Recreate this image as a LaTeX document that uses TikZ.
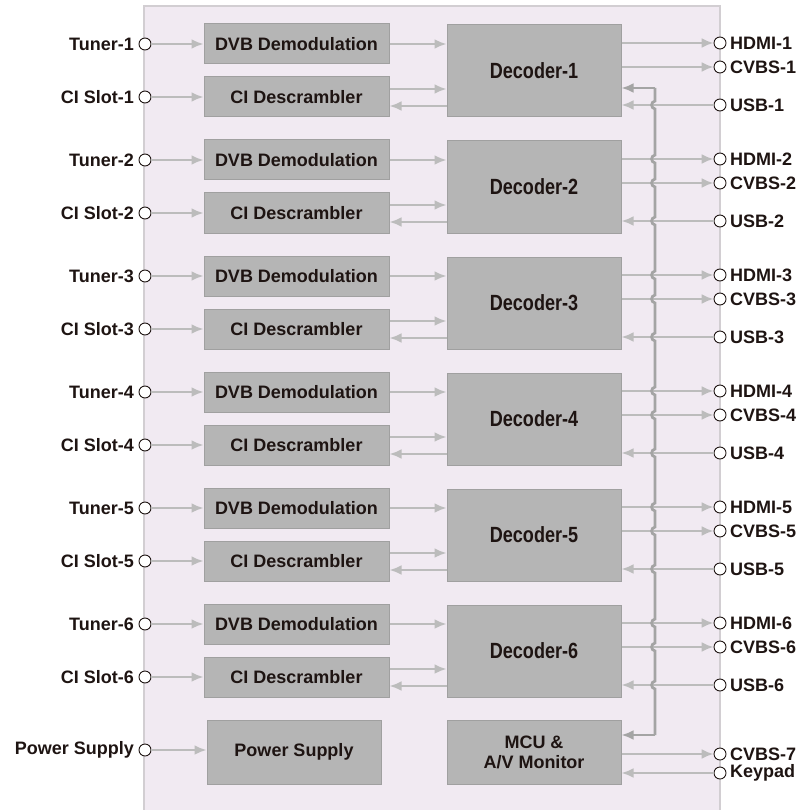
\documentclass[tikz,border=0pt]{standalone}
\usepackage{fontspec}
\setmainfont{Liberation Sans}
\newfontfamily\decfont[FakeStretch=0.82]{Liberation Sans}
\usetikzlibrary{arrows.meta,calc}
\definecolor{panel}{HTML}{F1EAF2}
\definecolor{panelrule}{HTML}{D2CED2}
\definecolor{blockfill}{HTML}{B5B5B5}
\definecolor{blockrule}{HTML}{A0A0A0}
\definecolor{wire}{HTML}{BCBCBC}
\definecolor{buswire}{HTML}{A4A4A4}
\definecolor{ink}{HTML}{1E1412}

\begin{document}
\begin{tikzpicture}[x=1pt,y=-1pt,
  font=\fontsize{18}{20}\selectfont\bfseries,
  blk/.style={draw=blockrule, fill=blockfill, line width=1pt, inner sep=0pt, text=ink, align=center},
  demod/.style={blk, minimum width=185pt, minimum height=40pt},
  decbox/.style={blk, minimum width=174pt, minimum height=92pt, font=\decfont\bfseries\fontsize{22}{24}\selectfont},
  lowbox/.style={blk, minimum width=174pt, minimum height=64pt},
  port/.style={circle, draw=ink, fill=white, line width=0.9pt, minimum size=12pt, inner sep=0pt},
  lbl/.style={text=ink, inner sep=1pt},
  arr/.style={draw=wire, line width=2.8pt, -{Latex[length=12pt,width=10pt]}},
  bus/.style={draw=buswire, line width=2.8pt}
]
\useasboundingbox (0,0) rectangle (801,810);

% enclosure panel
\fill[panel] (144,6) rectangle (720,810);
\draw[panelrule, line width=1.2pt] (144,810) -- (144,6) -- (720,6) -- (720,810);

% six tuner / decoder channels
\foreach \i [evaluate=\i as \yo using 116*(\i-1)] in {1,...,6} {
  \node[demod] (dvb\i) at (296.5,44+\yo) {DVB Demodulation};
  \node[demod] (ci\i) at (296.5,97+\yo) {CI Descrambler};
  \node[decbox] (dec\i) at (534,71+\yo) {Decoder-\i};

  \node[port] (tun\i) at (145,44+\yo) {};
  \node[lbl, anchor=east] (tunl\i) at (135,44+\yo) {Tuner-\i};
  \node[port] (slot\i) at (145,97+\yo) {};
  \node[lbl, anchor=east] (slotl\i) at (135,97+\yo) {CI Slot-\i};

  \node[port] (hdmi\i) at (720,43+\yo) {};
  \node[lbl, anchor=west] (hdmil\i) at (729,43+\yo) {HDMI-\i};
  \node[port] (cvbs\i) at (720,67+\yo) {};
  \node[lbl, anchor=west] (cvbsl\i) at (729,67+\yo) {CVBS-\i};
  \node[port] (usb\i) at (720,105+\yo) {};
  \node[lbl, anchor=west] (usbl\i) at (729,105+\yo) {USB-\i};

  \draw[arr] (tun\i) -- (dvb\i);
  \draw[arr] (slot\i) -- (ci\i);
  \draw[arr] (dvb\i.east) -- (dvb\i.east -| dec\i.west);
  \draw[arr] ($(ci\i.east)+(0,-8)$) -- ($(ci\i.east -| dec\i.west)+(0,-8)$);
  \draw[arr] ($(ci\i.east -| dec\i.west)+(0,9)$) -- ($(ci\i.east)+(0,9)$);
  \draw[arr] (dec\i.east |- hdmi\i) -- (hdmi\i);
  \draw[arr] (dec\i.east |- cvbs\i) -- (cvbs\i);
  \draw[arr] (usb\i) -- (usb\i -| dec\i.east);
}

% power supply and control
\node[lowbox] (pwr) at (294,752) {Power Supply};
\node[lowbox] (mcu) at (534,752) {MCU \&\\A/V Monitor};
\node[port] (pwrin) at (145,750) {};
\node[lbl, anchor=east] (pwrinl) at (135,750) {Power Supply};
\node[port] (cvbs7) at (720,754) {};
\node[lbl, anchor=west] (cvbsl7) at (729,754) {CVBS-7};
\node[port] (keypad) at (720,773) {};
\node[lbl, anchor=west] (keypadl) at (729,773) {Keypad};

\draw[arr] (pwrin) -- (pwrin -| pwr.west);
\draw[arr] (mcu.east |- cvbs7) -- (cvbs7);
\draw[arr] (keypad) -- (keypad -| mcu.east);

% control bus from the MCU to Decoder-1, hopping over the output wires
\coordinate (bustop) at (655,88);
\coordinate (busbot) at (655,735);
\draw[bus] (bustop)
  foreach \y in {105,159,183,221,275,299,337,391,415,453,507,531,569,623,647,685} {
    -- (655,\y-4) .. controls (650.5,\y-3) and (650.5,\y+3) .. (655,\y+4)
  } -- (busbot);
\draw[arr, draw=buswire] (bustop) -- (bustop -| dec1.east);
\draw[arr, draw=buswire] (busbot) -- (busbot -| mcu.east);
\end{tikzpicture}
\end{document}
